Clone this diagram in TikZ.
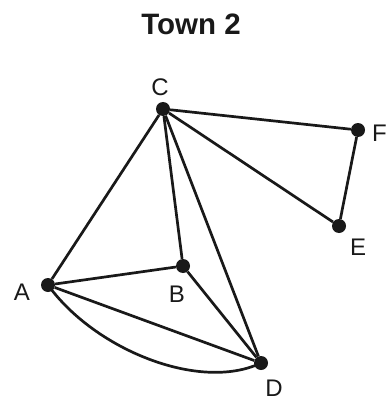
\documentclass[tikz,border=0pt]{standalone}
\usepackage{fontspec}
\setmainfont{Liberation Sans}
\begin{document}
\begin{tikzpicture}[x=1pt,y=-1pt,
  dot/.style={circle,fill=black!90,inner sep=0pt,minimum size=14pt},
  lab/.style={font=\fontsize{24}{28}\selectfont,text=black!90,inner sep=0pt},
  edge/.style={line width=2.7pt,draw=black!90}]
\useasboundingbox (0,0) rectangle (388,401);
\node[font=\bfseries\fontsize{29.5}{32}\selectfont,text=black!90] (title) at (191,24) {Town 2};
\node[dot] (C) at (163,109) {};
\node[dot] (F) at (358,130) {};
\node[dot] (E) at (339,226) {};
\node[dot] (A) at (48,285) {};
\node[dot] (B) at (183,266) {};
\node[dot] (D) at (261,363) {};
\node[lab] (lC) at (160,87) {C};
\node[lab,anchor=west] (lF) at (372,133) {F};
\node[lab] (lE) at (358,247) {E};
\node[lab] (lA) at (22,292) {A};
\node[lab] (lB) at (177,294) {B};
\node[lab] (lD) at (274,388) {D};
\draw[edge] (C) -- (A);
\draw[edge] (C) -- (B);
\draw[edge] (C) -- (D);
\draw[edge] (C) -- (F);
\draw[edge] (C) -- (E);
\draw[edge] (F) -- (E);
\draw[edge] (A) -- (B);
\draw[edge] (A) -- (D);
\draw[edge] (B) -- (D);
\draw[edge] (A.center) .. controls (95,350) and (200,392) .. (D.center);
\end{tikzpicture}
\end{document}
